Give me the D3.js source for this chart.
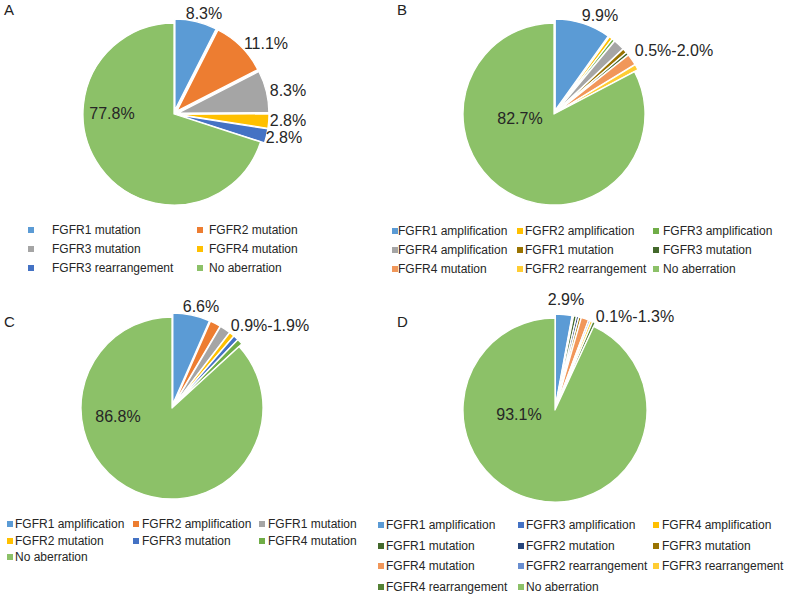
<!DOCTYPE html>
<html><head><meta charset="utf-8">
<script src="https://cdn.jsdelivr.net/npm/d3@7"></script>
<style>body{margin:0;background:#fff}svg{display:block;font-family:"Liberation Sans",Arial,sans-serif}</style>
</head><body><svg id="c" width="785" height="596"></svg>
<script>
// ---------- data ----------
const aCategories = ["FGFR1 mutation","FGFR2 mutation","FGFR3 mutation","FGFR4 mutation","FGFR3 rearrangement","No aberration"];
const aValues = [8.3, 11.1, 8.3, 2.8, 2.8, 77.8];
const aLabels = ["8.3%","11.1%","8.3%","2.8%","2.8%","77.8%"];

const bCategories = ["FGFR1 amplification","FGFR2 amplification","FGFR3 amplification","FGFR4 amplification","FGFR1 mutation","FGFR3 mutation","FGFR4 mutation","FGFR2 rearrangement","No aberration"];
const bValues = [9.9, 0.6, 0.5, 2.0, 0.8, 0.5, 2.0, 1.0, 82.7];
const bLabels = ["9.9%","0.5%-2.0%","82.7%"];

const cCategories = ["FGFR1 amplification","FGFR2 amplification","FGFR1 mutation","FGFR2 mutation","FGFR3 mutation","FGFR4 mutation","No aberration"];
const cValues = [6.6, 1.9, 1.9, 0.9, 0.9, 1.0, 86.8];
const cLabels = ["6.6%","0.9%-1.9%","86.8%"];

const dCategories = ["FGFR1 amplification","FGFR3 amplification","FGFR4 amplification","FGFR1 mutation","FGFR2 mutation","FGFR3 mutation","FGFR4 mutation","FGFR2 rearrangement","FGFR3 rearrangement","FGFR4 rearrangement","No aberration"];
const dValues = [2.9, 0.1, 0.1, 0.5, 0.4, 0.4, 1.3, 0.3, 0.4, 0.5, 93.1];
const dLabels = ["2.9%","0.1%-1.3%","93.1%"];

// ---------- styles ----------
const aColors = ["#5B9BD5","#ED7D31","#A5A5A5","#FFC000","#4472C4","#8CC168"];
const bColors = ["#5B9BD5","#FFC000","#70AD47","#A5A5A5","#997300","#43682B","#F1975A","#FFCD33","#8CC168"];
const cColors = ["#5B9BD5","#ED7D31","#A5A5A5","#FFC000","#4472C4","#70AD47","#8CC168"];
const dColors = ["#5B9BD5","#4472C4","#FFC000","#43682B","#264478","#997300","#F1975A","#698ED0","#FFCD33","#548235","#8CC168"];

// ---------- layout ----------
const panels = [
  {letter:"A", lx:4, ly:15, cx:174, cy:114, r:91, cats:aCategories, vals:aValues, cols:aColors, labels:aLabels,
   labelPos:[[30,-101],[92,-71],[114,-24],[114,6],[110,23],[-62,-1]],
   legSq:[28,197], legTx:[52,209], legRows:[230,249,268]},
  {letter:"B", lx:397, ly:15, cx:554, cy:114, r:91, cats:bCategories, vals:bValues, cols:bColors, labels:bLabels,
   labelPos:[[46,-99],[120,-64],[-34,4]],
   legSq:[392,517,653], legTx:[398,525,663], legRows:[231,250,269]},
  {letter:"C", lx:4, ly:327, cx:172, cy:408, r:91, cats:cCategories, vals:cValues, cols:cColors, labels:cLabels,
   labelPos:[[29,-102],[98,-83],[-54,8]],
   legSq:[7,133,259], legTx:[15,142,268], legRows:[524,541,557]},
  {letter:"D", lx:397, ly:327, cx:555, cy:410, r:92, cats:dCategories, vals:dValues, cols:dColors, labels:dLabels,
   labelPos:[[11,-111],[80,-94],[-36,4]],
   legSq:[378,518,653], legTx:[386,526,662], legRows:[525,546,566,587]}
];

const svg = d3.select("#c");
const explode = 4;

panels.forEach(p => {
  const g = svg.append("g");
  g.append("text").attr("x", p.lx).attr("y", p.ly).attr("font-size", 15).attr("fill", "#222").text(p.letter);

  const pie = d3.pie().sort(null).value(d => d)(p.vals);
  const arc = d3.arc().innerRadius(0).outerRadius(p.r);
  const pg = g.append("g").attr("transform", `translate(${p.cx},${p.cy})`);
  const last = p.vals.length - 1;
  pg.selectAll("path").data(pie).join("path")
    .attr("d", arc)
    .attr("fill", (d,i) => p.cols[i])
    .attr("stroke", "#fff").attr("stroke-width", 1.3).attr("stroke-linejoin", "round")
    .attr("transform", (d,i) => {
      if (i === last) return null;
      const a = (d.startAngle + d.endAngle) / 2;
      return `translate(${explode*Math.sin(a)},${-explode*Math.cos(a)})`;
    });

  // data labels
  pg.selectAll("text.lbl").data(p.labels).join("text").attr("class","lbl")
    .attr("x", (d,i) => p.labelPos[i][0]).attr("y", (d,i) => p.labelPos[i][1])
    .attr("text-anchor","middle").attr("dominant-baseline","central")
    .attr("font-size", 16).attr("fill", "#262626").text(d => d);

  // legend
  const nc = p.legSq.length;
  const lg = g.append("g");
  p.cats.forEach((c,i) => {
    const col = i % nc, row = Math.floor(i / nc);
    const y = p.legRows[row];
    lg.append("rect").attr("x", p.legSq[col]).attr("y", y - 3).attr("width", 6).attr("height", 6).attr("fill", p.cols[i]);
    lg.append("text").attr("x", p.legTx[col]).attr("y", y).attr("dominant-baseline","central")
      .attr("font-size", 12).attr("fill", "#262626").text(c);
  });
});
</script></body></html>
